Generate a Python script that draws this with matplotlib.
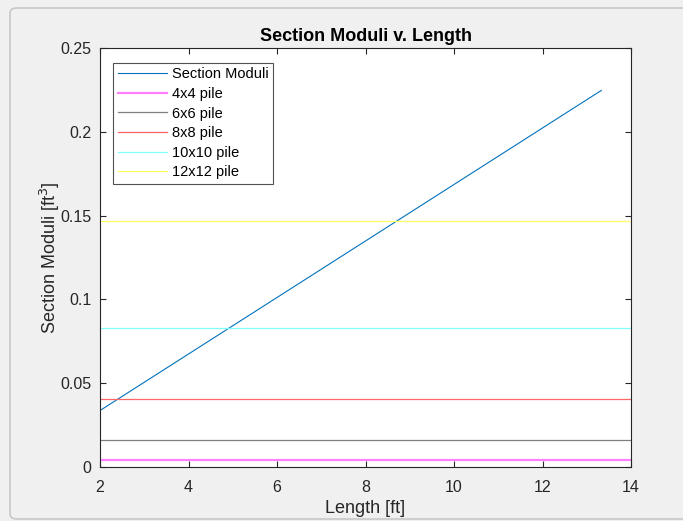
import numpy as np
import matplotlib.pyplot as plt
from matplotlib.patches import FancyBboxPatch

# data
length = [2.0, 13.33]
section_moduli = [0.0337, 0.2247]
pile_names = ['4x4 pile', '6x6 pile', '8x8 pile', '10x10 pile', '12x12 pile']
pile_moduli = [0.0041, 0.0160, 0.0407, 0.0827, 0.1467]
pile_colors = ['#ff80ff', '#808080', '#ff6666', '#80ffff', '#ffff66']
x_ticks = [2, 4, 6, 8, 10, 12, 14]
y_ticks = [0, 0.05, 0.1, 0.15, 0.2, 0.25]
y_ticklabels = ['0', '0.05', '0.1', '0.15', '0.2', '0.25']

plt.rcParams['font.family'] = ['Liberation Sans', 'DejaVu Sans']

fig = plt.figure(figsize=(6.83, 5.21), dpi=100, facecolor='#f0f0f0')
# window frame seen in the screenshot
fig.add_artist(FancyBboxPatch((10 / 683, 2 / 521), 700 / 683, 511 / 521,
                              boxstyle='round,pad=0,rounding_size=0.01',
                              transform=fig.transFigure, facecolor='none',
                              edgecolor='#c8c8c8', linewidth=1.2))

ax = fig.add_axes([100 / 683, 54 / 521, 531 / 683, 419 / 521])
ax.set_facecolor('white')

ax.plot(length, section_moduli, color='#0072bd', lw=0.8, label='Section Moduli')
for name, val, col in zip(pile_names, pile_moduli, pile_colors):
    lw = 1.6 if name == '4x4 pile' else 0.9
    ax.plot([2, 14], [val, val], color=col, lw=lw, label=name)

ax.set_xlim(2, 14)
ax.set_ylim(0, 0.25)
ax.set_xticks(x_ticks)
ax.set_yticks(y_ticks)
ax.set_yticklabels(y_ticklabels)
ax.tick_params(direction='in', top=True, right=True, length=4, width=0.8,
               color='#262626', labelsize=11.5, labelcolor='#262626')
ax.tick_params(axis='x', pad=9)
ax.tick_params(axis='y', pad=6)
for s in ax.spines.values():
    s.set_color('#262626')
    s.set_linewidth(0.8)

ax.set_xlabel('Length [ft]', fontsize=13, color='#262626', labelpad=4)
ax.set_ylabel('Section Moduli [ft$^3$]', fontsize=13, color='#262626')
ax.yaxis.set_label_coords(-0.071, 0.5)
ax.set_title('Section Moduli v. Length', fontsize=13, fontweight='bold', pad=5)

leg = ax.legend(loc='upper left', bbox_to_anchor=(0.024, 0.965), fontsize=10.5,
                frameon=True, fancybox=False, edgecolor='#262626',
                handlelength=3.4, handletextpad=0.3, borderpad=0.33,
                labelspacing=0.38, borderaxespad=0)
leg.get_frame().set_linewidth(0.8)

fig.savefig('out.png', dpi=100, facecolor=fig.get_facecolor())
